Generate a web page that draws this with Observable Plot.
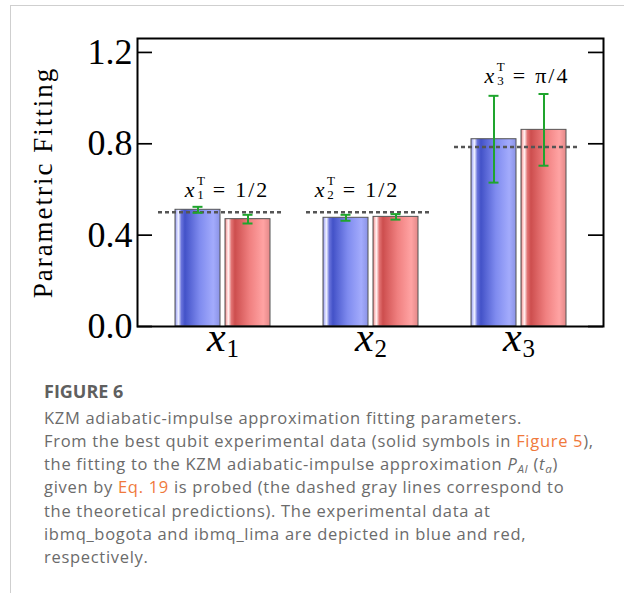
<!DOCTYPE html>
<html><head><meta charset="utf-8">
<script src="https://cdn.jsdelivr.net/npm/d3@7"></script>
<script src="https://cdn.jsdelivr.net/npm/@observablehq/plot@0.6"></script>
<style>
body{margin:0;background:#fff;width:624px;height:593px;overflow:hidden;position:relative;}
.card{position:absolute;left:10px;top:5px;width:700px;height:700px;border-left:1px solid #cfcfcf;border-top:1px solid #cfcfcf;}
#chart{position:absolute;left:0;top:0;}
.fig{position:absolute;left:44px;top:382px;font:700 18px/18px "Open Sans",sans-serif;color:#5f5f5f;}
.cap{position:absolute;left:44px;top:405.6px;font:400 16.5px/23.3px "Open Sans",sans-serif;letter-spacing:0.7px;color:#6b6b6b;white-space:nowrap;}
.cap a{color:#f0793c;text-decoration:none}
.cap sub{font-size:.7em;line-height:0;vertical-align:-0.25em}
</style>
</head><body>
<div class="card"></div>
<div id="chart"></div>
<div class="fig">FIGURE 6</div>
<div class="cap">KZM adiabatic-impulse approximation fitting parameters.<br>From the best qubit experimental data (solid symbols in <a>Figure 5</a>),<br>the fitting to the KZM adiabatic-impulse approximation <i>P</i><sub><i>AI</i></sub> (<i>t</i><sub><i>a</i></sub>)<br>given by <a>Eq. 19</a> is probed (the dashed gray lines correspond to<br>the theoretical predictions). The experimental data at<br>ibmq_bogota and ibmq_lima are depicted in blue and red,<br>respectively.</div>
<script>
// ---- data ----
const categories = ["x1", "x2", "x3"];
const subscripts = ["1", "2", "3"];
const bogota = [0.511, 0.476, 0.820];      // blue bars
const bogotaErr = [0.013, 0.013, 0.190];
const lima = [0.470, 0.480, 0.861];        // red bars
const limaErr = [0.019, 0.012, 0.157];
const theory = [0.5, 0.5, Math.PI / 4];
const theoryLabels = ["1/2", "1/2", "π/4"];
const labelHeights = [0.565, 0.565, 1.064];
const yTicks = [0, 0.4, 0.8, 1.2];
const yTitle = "Parametric Fitting";

// ---- tables ----
const blue = categories.map((c, i) => ({cat: c, v: bogota[i], lo: bogota[i] - bogotaErr[i], hi: bogota[i] + bogotaErr[i]}));
const red = categories.map((c, i) => ({cat: c, v: lima[i], lo: lima[i] - limaErr[i], hi: lima[i] + limaErr[i]}));
const theo = categories.map((c, i) => ({cat: c, v: theory[i], sub: subscripts[i], label: theoryLabels[i], ly: labelHeights[i]}));

const W = 624, H = 370, mL = 137, mR = 21, mT = 38, mB = 44;
const plotW = W - mL - mR;
const serif = "'Liberation Serif', 'Times New Roman', serif";
const green = "#1fa52d";
const annDx = [4, -14, 8];

const chart = Plot.plot({
  width: W, height: H,
  marginLeft: mL, marginRight: mR, marginTop: mT, marginBottom: mB,
  style: {fontFamily: serif, fontSize: "36px", background: "transparent", color: "black"},
  x: {type: "band", domain: categories, paddingInner: 0.36, paddingOuter: 0.249, axis: null},
  y: {domain: [0, 1.261], axis: null},
  marks: [
    Plot.barY(blue, {x: "cat", y: "v", fill: "url(#gBlue)", stroke: "#555", strokeWidth: 1, insetRight: 50}),
    Plot.barY(red, {x: "cat", y: "v", fill: "url(#gRed)", stroke: "#555", strokeWidth: 1, insetLeft: 50}),
    Plot.tickY(theo, {x: "cat", y: "v", stroke: "#555", strokeWidth: 2.5, strokeDasharray: "4,3", insetLeft: -17, insetRight: -14}),
    Plot.ruleX(blue, {x: "cat", y1: "lo", y2: "hi", dx: -25, stroke: green, strokeWidth: 2}),
    Plot.tickY(blue, {x: "cat", y: "lo", insetLeft: 17.5, insetRight: 67.5, stroke: green, strokeWidth: 2}),
    Plot.tickY(blue, {x: "cat", y: "hi", insetLeft: 17.5, insetRight: 67.5, stroke: green, strokeWidth: 2}),
    Plot.ruleX(red, {x: "cat", y1: "lo", y2: "hi", dx: 25, stroke: green, strokeWidth: 2}),
    Plot.tickY(red, {x: "cat", y: "lo", insetLeft: 67.5, insetRight: 17.5, stroke: green, strokeWidth: 2}),
    Plot.tickY(red, {x: "cat", y: "hi", insetLeft: 67.5, insetRight: 17.5, stroke: green, strokeWidth: 2}),
    Plot.frame({stroke: "black", strokeWidth: 2}),
    Plot.tickY(yTicks, {y: d => d, insetRight: plotW - 15, stroke: "black", strokeWidth: 1.7}),
    Plot.tickY(yTicks, {y: d => d, insetLeft: plotW - 15, stroke: "black", strokeWidth: 1.7}),
    Plot.text(yTicks, {y: d => d, text: d => d3.format(".1f")(d), frameAnchor: "left", textAnchor: "end", dx: -5, fontSize: 36}),
    Plot.text([yTitle], {text: d => d, frameAnchor: "left", textAnchor: "middle", rotate: -90, dx: -94, fontSize: 27}),
    Plot.text(categories, {x: d => d, text: d => d, frameAnchor: "bottom", lineAnchor: "bottom", dy: 24, fontSize: 42}),
    ...theo.map((t, i) => Plot.text([t], {x: "cat", y: "ly", text: d => "x" + d.sub + "T = " + d.label, lineAnchor: "bottom", dx: annDx[i], fontSize: 22}))
  ]
});
document.getElementById("chart").appendChild(chart);

// gradients for the cylindrical bar look
const svg = d3.select(chart);
const defs = svg.insert("defs", ":first-child");
function grad(id, stops) {
  const g = defs.append("linearGradient").attr("id", id).attr("x1", "0").attr("x2", "1").attr("y1", "0").attr("y2", "0");
  stops.forEach(([o, c]) => g.append("stop").attr("offset", o).attr("stop-color", c));
}
grad("gBlue", [["0%", "#8088dc"], ["4%", "#c8ccff"], ["8%", "#eef0ff"], ["14%", "#6a74dc"], ["22%", "#4352c8"], ["55%", "#7f8bef"], ["85%", "#a3abfc"], ["100%", "#8a92e6"]]);
grad("gRed", [["0%", "#d87070"], ["4%", "#ffc8c8"], ["8%", "#fff0f0"], ["14%", "#e27474"], ["22%", "#cd4e4e"], ["55%", "#f08080"], ["85%", "#ffa3a3"], ["100%", "#e48888"]]);

// math-style text
const ns = "http://www.w3.org/2000/svg";
function clear(el) { while (el.firstChild) el.removeChild(el.firstChild); }
function add(el, s, attrs) {
  const t = document.createElementNS(ns, "tspan");
  t.textContent = s;
  for (const k in attrs) t.setAttribute(k, attrs[k]);
  el.appendChild(t);
  return t;
}
chart.querySelectorAll("text").forEach(el => {
  const s = el.textContent;
  const ci = categories.indexOf(s);
  if (ci >= 0) {
    clear(el);
    add(el, "x", {"font-style": "italic"});
    add(el, subscripts[ci], {"font-size": 25, dx: 1, dy: 6});
    return;
  }
  const ai = theo.findIndex(d => s === "x" + d.sub + "T = " + d.label);
  if (ai >= 0) {
    clear(el);
    add(el, "x", {"font-style": "italic"});
    add(el, "T", {"font-size": 13, dx: 2.5, dy: -12});
    add(el, subscripts[ai], {"font-size": 13, dx: -7.5, dy: 14});
    add(el, "=", {dx: 9, dy: -2});
    add(el, theoryLabels[ai], {dx: 10, "letter-spacing": 2});
    return;
  }
  if (s === yTitle) el.setAttribute("letter-spacing", 2);
});
</script>
</body></html>
